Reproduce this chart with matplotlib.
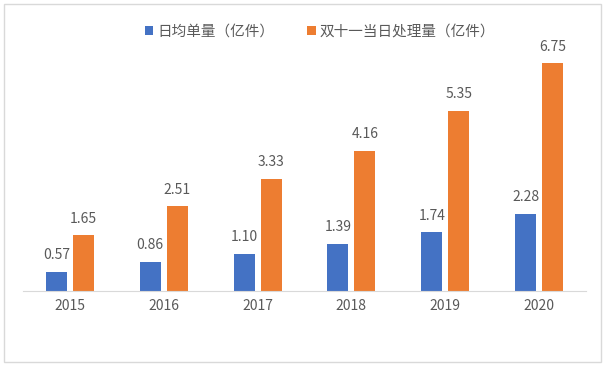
import matplotlib
matplotlib.use("Agg")
from matplotlib import pyplot as plt
from matplotlib.patches import Rectangle
import numpy as np

plt.rcParams['font.family'] = ['Noto Sans CJK SC', 'DejaVu Sans']

years = ['2015', '2016', '2017', '2018', '2019', '2020']
daily_avg = [0.57, 0.86, 1.10, 1.39, 1.74, 2.28]
double11 = [1.65, 2.51, 3.33, 4.16, 5.35, 6.75]
series_names = ['日均单量（亿件）', '双十一当日处理量（亿件）']

blue = '#4472C4'
orange = '#ED7D31'
grey = '#595959'

fig = plt.figure(figsize=(6.08, 3.66), dpi=100, facecolor='white')
# outer frame like the original chart box
fig.patches.append(Rectangle((4 / 608, 4 / 366), 597 / 608, 358 / 366,
                             transform=fig.transFigure, fill=False,
                             edgecolor='#D9D9D9', linewidth=1))

ax = fig.add_axes([23 / 608, 75 / 366, 563 / 608, 253 / 366])
x = np.arange(len(years))
w = 0.224
off = 0.144
b1 = ax.bar(x - off, daily_avg, w, color=blue, label=series_names[0])
b2 = ax.bar(x + off, double11, w, color=orange, label=series_names[1])

for bars, vals in ((b1, daily_avg), (b2, double11)):
    for rect, v in zip(bars, vals):
        ax.annotate(f'{v:.2f}', (rect.get_x() + rect.get_width() / 2, v),
                    xytext=(0, 7), textcoords='offset points',
                    ha='center', va='bottom', fontsize=10, color=grey)

ax.set_xlim(-0.5, len(years) - 0.5)
ax.set_ylim(0, 7.5)
ax.set_xticks(x)
ax.set_xticklabels(years, fontsize=10, color=grey)
ax.set_yticks([])
ax.tick_params(axis='x', length=0, pad=6)
for s in ['top', 'right', 'left']:
    ax.spines[s].set_visible(False)
ax.spines['bottom'].set_color('#D9D9D9')

fig.legend(handles=[b1, b2], labels=series_names, loc='center',
           bbox_to_anchor=(320 / 608, 1 - 32 / 366), ncol=2, frameon=False,
           fontsize=10.5, handlelength=0.6, handleheight=0.6,
           handletextpad=0.3, columnspacing=2.2, labelcolor=grey)

fig.savefig('out.png', dpi=100, facecolor='white')
